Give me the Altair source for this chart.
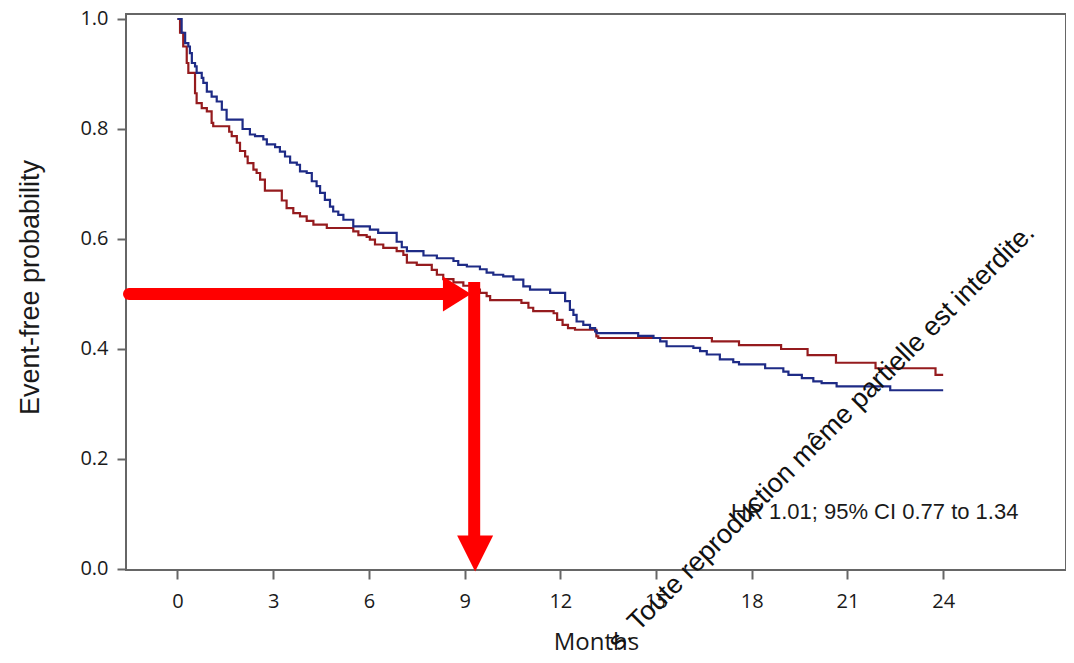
import altair as alt
import pandas as pd

# ---- Kaplan-Meier step data ----
blue_t = [0, 0.13, 0.24, 0.34, 0.39, 0.45, 0.55, 0.6, 0.76, 0.81, 0.92, 1.07, 1.23, 1.39, 1.54,
          2.04, 2.27, 2.43, 2.69, 2.8, 3.06, 3.21, 3.37, 3.53, 3.74, 3.84, 4.05, 4.21, 4.36, 4.47,
          4.62, 4.78, 4.88, 5.04, 5.2, 5.51, 6.03, 6.29, 6.87, 7.03, 7.19, 7.71, 8.13, 8.65, 8.8,
          9.07, 9.48, 9.69, 9.9, 10.21, 10.53, 10.84, 11.05, 11.68, 12.15, 12.3, 12.41, 12.51,
          12.72, 12.93, 13.09, 13.14, 14.44, 14.92, 15.13, 15.33, 16.17, 16.38, 16.59, 17.0,
          17.42, 17.6, 18.42, 18.99, 19.15, 19.57, 19.93, 20.19, 20.66, 22.34, 24.0]
blue_s = [1.0, 0.975, 0.956, 0.95, 0.938, 0.92, 0.914, 0.902, 0.893, 0.884, 0.868, 0.859, 0.85,
          0.835, 0.817, 0.8, 0.79, 0.787, 0.781, 0.772, 0.767, 0.759, 0.75, 0.739, 0.735, 0.723,
          0.72, 0.705, 0.696, 0.684, 0.671, 0.659, 0.65, 0.644, 0.635, 0.623, 0.617, 0.611, 0.595,
          0.585, 0.578, 0.57, 0.565, 0.56, 0.553, 0.55, 0.545, 0.539, 0.535, 0.532, 0.526, 0.514,
          0.508, 0.502, 0.487, 0.471, 0.462, 0.45, 0.444, 0.438, 0.432, 0.429, 0.424, 0.42, 0.414,
          0.405, 0.402, 0.396, 0.39, 0.381, 0.376, 0.372, 0.365, 0.359, 0.353, 0.347, 0.341,
          0.338, 0.332, 0.325, 0.325]

red_t = [0, 0.08, 0.18, 0.29, 0.34, 0.55, 0.6, 0.76, 0.92, 1.07, 1.12, 1.62, 1.7, 1.86, 1.96,
         2.12, 2.2, 2.38, 2.48, 2.59, 2.74, 3.27, 3.42, 3.63, 3.84, 4.05, 4.26, 4.68, 5.51, 5.67,
         5.93, 6.03, 6.19, 6.45, 6.87, 7.08, 7.19, 7.5, 7.97, 8.13, 8.33, 8.65, 8.96, 9.2, 9.48,
         9.69, 9.8, 10.78, 11.0, 11.15, 11.79, 11.9, 12.07, 12.24, 12.46, 13.13, 13.19, 16.75,
         17.6, 18.92, 19.75, 20.64, 21.88, 23.76, 24.0]
red_s = [1.0, 0.975, 0.95, 0.92, 0.902, 0.865, 0.847, 0.838, 0.832, 0.811, 0.805, 0.795, 0.787,
         0.775, 0.76, 0.75, 0.738, 0.726, 0.72, 0.708, 0.688, 0.67, 0.656, 0.647, 0.641, 0.633,
         0.626, 0.62, 0.614, 0.607, 0.604, 0.599, 0.59, 0.584, 0.578, 0.571, 0.557, 0.553, 0.544,
         0.535, 0.527, 0.521, 0.515, 0.508, 0.502, 0.496, 0.489, 0.484, 0.475, 0.469, 0.465,
         0.453, 0.444, 0.438, 0.435, 0.423, 0.42, 0.414, 0.407, 0.4, 0.389, 0.375, 0.365, 0.353,
         0.353]

arm_names = ["Arm 1", "Arm 2"]
arm_colors = ["#951b1e", "#1e2b86"]

x_ticks = [0, 3, 6, 9, 12, 15, 18, 21, 24]
y_ticks = [0.0, 0.2, 0.4, 0.6, 0.8, 1.0]

hr_text = ["HR 1.01; 95% CI 0.77 to 1.34"]
hr_pos = [17.35, 0.104]

overlay_text = ["s. Toute reproduction même partielle est interdite."]
overlay_pos = [13.82, -0.151]

# arrow annotation (median read-off)
h_shaft = {"x": [-1.52], "x2": [8.5], "y": [0.5]}
v_shaft = {"x": [9.3], "y": [0.522], "y2": [0.06]}
h_head = {"x": [8.76], "y": [0.5]}
v_head = {"x": [9.33], "y": [0.028]}

# ---- build tables ----
km = pd.concat([
    pd.DataFrame({"arm": arm_names[0], "t": red_t, "s": red_s, "o": 0}),
    pd.DataFrame({"arm": arm_names[1], "t": blue_t, "s": blue_s, "o": 1}),
])

W, H = 940, 556
X_DOM = [-1.614, 27.85]
Y_DOM = [-0.00182, 1.00909]
GRAY = "#666666"
INK = "#1a1a1a"

xs = alt.Scale(domain=X_DOM, nice=False, zero=False)
ys = alt.Scale(domain=Y_DOM, nice=False, zero=False)

x_axis = alt.Axis(values=x_ticks, tickSize=9, tickWidth=2, tickColor=GRAY, domain=False,
                  grid=False, labelFont="Open Sans", labelFontSize=20, labelColor=INK,
                  labelPadding=12, title="Months", titleFont="Open Sans", titleFontSize=24,
                  titleFontWeight="normal", titleColor=INK, titlePadding=19)
y_axis = alt.Axis(values=y_ticks, format=".1f", tickSize=9, tickWidth=2, tickColor=GRAY,
                  domain=False, grid=False, labelFont="Open Sans", labelFontSize=20,
                  labelColor=INK, labelPadding=9, title="Event-free probability",
                  titleFont="Liberation Sans", titleFontSize=27, titleFontWeight="normal",
                  titleColor=INK, titlePadding=35, titleY=273)

lines = alt.Chart(km).mark_line(interpolate="step-after", strokeWidth=2.2).encode(
    x=alt.X("t:Q", scale=xs, axis=x_axis),
    y=alt.Y("s:Q", scale=ys, axis=y_axis),
    color=alt.Color("arm:N", scale=alt.Scale(domain=arm_names, range=arm_colors), legend=None),
    order="o:Q",
    detail="arm:N",
)

frame = alt.Chart(pd.DataFrame({"k": [0]})).mark_rect(
    fill="transparent", stroke=GRAY, strokeWidth=2
).encode(x=alt.value(0), x2=alt.value(W), y=alt.value(0), y2=alt.value(H))

RED = "#ff0000"
hs = alt.Chart(pd.DataFrame(h_shaft)).mark_rule(color=RED, strokeWidth=12, strokeCap="round").encode(
    x=alt.X("x:Q", scale=xs), x2="x2:Q", y=alt.Y("y:Q", scale=ys))
vs = alt.Chart(pd.DataFrame(v_shaft)).mark_rule(color=RED, strokeWidth=12, strokeCap="butt").encode(
    x=alt.X("x:Q", scale=xs), y=alt.Y("y:Q", scale=ys), y2="y2:Q")
hh = alt.Chart(pd.DataFrame(h_head)).mark_point(
    shape="M-1,-1.25L1,0L-1,1.25Z", size=784, filled=True, color=RED, opacity=1, strokeWidth=0
).encode(x=alt.X("x:Q", scale=xs), y=alt.Y("y:Q", scale=ys))
vh = alt.Chart(pd.DataFrame(v_head)).mark_point(
    shape="M-1,-1L1,-1L0,1Z", size=1296, filled=True, color=RED, opacity=1, strokeWidth=0
).encode(x=alt.X("x:Q", scale=xs), y=alt.Y("y:Q", scale=ys))

hr = alt.Chart(pd.DataFrame({"x": [hr_pos[0]], "y": [hr_pos[1]], "txt": hr_text})).mark_text(
    align="left", baseline="middle", font="Liberation Sans", fontSize=22, color=INK
).encode(x=alt.X("x:Q", scale=xs), y=alt.Y("y:Q", scale=ys), text="txt:N")

ov = alt.Chart(pd.DataFrame({"x": [overlay_pos[0]], "y": [overlay_pos[1]], "txt": overlay_text})).mark_text(
    align="left", baseline="alphabetic", font="Liberation Sans", fontSize=27, angle=315,
    color="#111111"
).encode(x=alt.X("x:Q", scale=xs), y=alt.Y("y:Q", scale=ys), text="txt:N")

chart = alt.layer(lines, frame, hs, vs, hh, vh, hr, ov).properties(
    width=W, height=H,
    autosize=alt.AutoSizeParams(type="none"),
    padding={"left": 118, "top": 6, "right": 0, "bottom": 85},
).configure_view(stroke="transparent").configure(background="white")

chart.save("out.html", embed_options={"renderer": "svg", "actions": False})
